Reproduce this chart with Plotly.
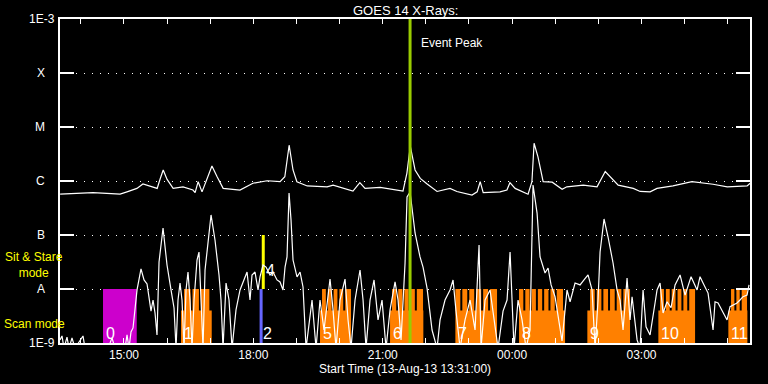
import math
import plotly.graph_objects as go

# ---------------- data (clock hours from 13-Aug-13 00:00; >24 = next day) ----------------
START, END = 13.5167, 29.5167
BELOW = 8e-10  # flux below plotted floor

long_channel = [
    (13.52, 5.7e-7), (14.28, 6.1e-7), (14.60, 5.9e-7), (14.91, 5.7e-7), (15.07, 6.3e-7),
    (15.30, 7.3e-7), (15.44, 8.8e-7), (15.77, 7.3e-7), (15.84, 1.1e-6), (15.91, 1.6e-6),
    (16.00, 1.07e-6), (16.14, 7.3e-7), (16.37, 7.8e-7), (16.60, 6.8e-7), (16.65, 6.1e-7),
    (16.72, 9.7e-7), (16.81, 6.3e-7), (16.93, 1.1e-6), (17.04, 1.9e-6), (17.16, 1.2e-6),
    (17.30, 7.3e-7), (17.69, 6.8e-7), (17.99, 9.1e-7), (18.32, 1.01e-6), (18.62, 9.7e-7),
    (18.73, 1.2e-6), (18.83, 4.6e-6), (18.92, 1.6e-6), (19.01, 9.7e-7), (19.25, 8.1e-7),
    (19.71, 7.8e-7), (19.85, 8.4e-7), (20.17, 7.1e-7), (20.31, 6.5e-7), (20.47, 9.3e-7),
    (20.59, 7.3e-7), (20.94, 7.6e-7), (21.24, 7.0e-7), (21.47, 6.5e-7), (21.56, 1.39e-6),
    (21.64, 4.4e-6), (21.75, 1.6e-6), (21.87, 1.12e-6), (22.03, 8.8e-7), (22.26, 6.4e-7),
    (22.56, 7.3e-7), (22.72, 6.4e-7), (23.07, 5.5e-7), (23.19, 6.3e-7), (23.26, 9.7e-7),
    (23.33, 6.1e-7), (23.72, 6.3e-7), (23.88, 6.8e-7), (23.95, 9.3e-7), (24.07, 7.3e-7),
    (24.37, 5.7e-7), (24.46, 9.7e-7), (24.51, 5.0e-6), (24.60, 2.8e-6), (24.72, 9.7e-7),
    (24.93, 9.5e-7), (25.16, 7.0e-7), (25.27, 7.8e-7), (25.65, 8.4e-7), (25.97, 7.8e-7),
    (26.16, 1.5e-6), (26.32, 1.12e-6), (26.46, 8.4e-7), (26.81, 7.3e-7), (26.97, 6.4e-7),
    (27.20, 6.3e-7), (27.36, 7.3e-7), (27.73, 8.1e-7), (28.17, 9.7e-7), (28.66, 8.7e-7),
    (28.99, 7.8e-7), (29.45, 8.1e-7), (29.52, 9.1e-7),
]

short_channel = [
    (13.517, 1.14e-9), (13.563, 1.35e-9), (13.610, BELOW), (13.679, 1.29e-9), (13.726, BELOW),
    (13.795, 1.24e-9), (13.865, BELOW), (13.981, 1.09e-9), (14.050, 1.35e-9), (14.097, BELOW),
    (14.630, BELOW), (14.723, 1.24e-9), (14.792, BELOW), (15.024, BELOW), (15.071, 1.41e-9),
    (15.117, BELOW), (15.163, 1.6e-9), (15.210, 1.9e-9), (15.256, 3.75e-9), (15.303, 9.6e-9),
    (15.395, 2.35e-8), (15.465, 1.47e-8), (15.535, 1.24e-8), (15.627, 3.9e-9), (15.674, 6.25e-9),
    (15.720, 3.6e-9), (15.766, 1.41e-9), (15.813, 3.16e-8), (15.906, 1.35e-7), (15.998, 2.78e-8),
    (16.091, 9.6e-9), (16.161, 4.45e-9), (16.207, BELOW), (16.253, 6.25e-9), (16.300, 1.29e-8),
    (16.346, 6.25e-9), (16.393, BELOW), (16.439, 9.6e-9), (16.485, 2.06e-8), (16.532, 6.25e-9),
    (16.578, BELOW), (16.625, 6.25e-9), (16.694, 3.44e-8), (16.740, 4.84e-8), (16.787, 6.25e-9),
    (16.833, BELOW), (16.880, 2.25e-8), (16.926, 4.64e-8), (17.019, 2.35e-7), (17.111, 8.07e-8),
    (17.204, 1.82e-8), (17.250, 6.25e-9), (17.297, BELOW), (17.367, 1.29e-8), (17.436, 6.25e-9),
    (17.506, BELOW), (17.598, 4.1e-9), (17.691, 9.6e-9), (17.784, 1.47e-8), (17.854, 2.06e-8),
    (17.923, 6.25e-9), (17.969, 1.82e-8), (18.039, 2.06e-8), (18.109, 9.6e-9), (18.155, 1.67e-8),
    (18.225, 2.78e-8), (18.294, 2.55e-8), (18.387, 1.82e-8), (18.456, 2.06e-8), (18.549, 1.47e-8),
    (18.619, 1.35e-8), (18.688, 9.6e-9), (18.735, 2.55e-8), (18.781, 3.92e-8), (18.828, 6.0e-7),
    (18.874, 1.9e-7), (18.920, 3.44e-8), (19.013, 1.67e-8), (19.083, 2.06e-8), (19.152, 1.09e-8),
    (19.222, BELOW), (19.361, 6.25e-9), (19.454, BELOW), (19.546, 6.25e-9), (19.639, 1.74e-9),
    (19.732, 8.4e-9), (19.778, 1.53e-8), (19.848, 4.1e-9), (19.917, BELOW), (20.010, 6.25e-9),
    (20.126, 1.53e-8), (20.196, 2.67e-9), (20.265, BELOW), (20.358, 6.25e-9), (20.474, 2.25e-8),
    (20.544, 6.25e-9), (20.613, BELOW), (20.706, 6.25e-9), (20.799, 1.47e-8), (20.891, 2.67e-9),
    (20.984, 6.25e-9), (21.077, BELOW), (21.170, 4.1e-9), (21.286, 1.35e-8), (21.355, 6.25e-9),
    (21.425, 1.14e-9), (21.471, 6.25e-9), (21.518, 3.03e-8), (21.564, 5.06e-7), (21.634, 6.25e-7),
    (21.750, 1.09e-7), (21.865, 3.92e-8), (21.935, 2.55e-8), (22.028, 1.04e-8), (22.144, 1.74e-9),
    (22.260, BELOW), (22.329, 2.67e-9), (22.445, 6.25e-9), (22.561, 9.6e-9), (22.631, 1.47e-8),
    (22.700, 3.9e-9), (22.793, BELOW), (22.909, 2.67e-9), (23.025, 6.25e-9), (23.141, 1.74e-9),
    (23.234, 6.53e-8), (23.280, BELOW), (23.373, 6.25e-9), (23.489, 9.6e-9), (23.582, 2.67e-9),
    (23.674, BELOW), (23.790, 3.9e-9), (23.883, 6.25e-9), (23.953, 4.84e-8), (24.045, BELOW),
    (24.138, 6.25e-9), (24.231, 2.67e-9), (24.324, BELOW), (24.416, 1.74e-9), (24.486, 8.43e-7),
    (24.579, 2.55e-7), (24.648, 3.92e-8), (24.764, 1.98e-8), (24.834, 2.45e-8), (24.904, 1.19e-8),
    (24.996, 7.2e-9), (25.112, 1.74e-9), (25.158, 1.09e-9), (25.274, 9.6e-9), (25.344, 5.8e-9),
    (25.460, 1.29e-8), (25.576, 1.19e-8), (25.668, 1.47e-8), (25.761, 1.82e-8), (25.854, 9.6e-9),
    (25.924, BELOW), (25.993, 6.25e-9), (26.040, 4.84e-8), (26.132, 1.98e-7), (26.225, 9.18e-8),
    (26.341, 3.03e-8), (26.434, 9.6e-9), (26.503, 6.25e-9), (26.573, 1.74e-9), (26.666, 1.6e-8),
    (26.735, 2.67e-9), (26.782, 7.2e-9), (26.851, 2.0e-9), (26.898, 1.14e-9), (26.967, BELOW),
    (27.037, 9.6e-9), (27.106, 2.0e-9), (27.199, 1.41e-9), (27.315, 5.5e-9), (27.361, 9.6e-9),
    (27.431, 1.29e-8), (27.501, 3.6e-9), (27.593, 5.8e-9), (27.686, 4.5e-9), (27.779, 1.19e-8),
    (27.895, 1.82e-8), (28.011, 7.7e-9), (28.150, 1.69e-8), (28.289, 9.6e-9), (28.358, 1.69e-8),
    (28.428, 1.29e-8), (28.544, 8.4e-9), (28.660, 1.74e-9), (28.706, 5.8e-9), (28.776, 5.5e-9),
    (28.892, 3.6e-9), (28.984, 2.67e-9), (29.054, 4.7e-9), (29.216, 5.5e-9), (29.285, 6.25e-9),
    (29.355, 7.2e-9), (29.448, 7.7e-9), (29.494, 1.19e-8),
]

# scan-mode observations (orange)
scan_labels = ["1", "5", "6", "7", "8", "9", "10", "11"]
scan_start = [16.323, 19.546, 21.170, 22.685, 24.161, 25.745, 27.392, 29.015]
scan_end = [17.035, 20.265, 21.942, 23.651, 25.228, 26.735, 28.243, 29.456]
raster_start = [16.393, 19.593, 21.216, 22.685, 24.161, 25.808, 27.431, 29.077]
raster_end = [16.980, 20.265, 21.935, 23.651, 25.181, 26.735, 28.243, 29.448]
raster_count = [3, 5, 5, 6, 7, 6, 6, 3]

# sit & stare observation (magenta) and single-exposure markers
stare_label, stare_start, stare_end = "0", 14.514, 15.296
blue_label, blue_time = "2", 18.18
yellow_label, yellow_time = "4", 18.23
event_peak_time = 21.634

FLOOR, RASTER_BASE, MODE_TOP, STARE_TOP = 1e-9, 4e-9, 1e-8, 1e-7
level_vals = [1e-9, 1e-8, 1e-7, 1e-6, 1e-5, 1e-4, 1e-3]
level_text = ["1E-9", "A", "B", "C", "M", "X", "1E-3"]
hours = list(range(14, 30))

# ---------------- figure ----------------
L, R, T, B = 60, 18, 19, 41
W, H = 768, 384
PW = W - L - R


def px_to_paper_x(px):
    return (px - L) / PW


def rects(xs0, xs1, y0, y1):
    xx, yy = [], []
    for a, b in zip(xs0, xs1):
        xx += [a, b, b, a, a, None]
        yy += [y0, y0, y1, y1, y0, None]
    return xx, yy


ORANGE = "#ff8000"
MAGENTA = "#cc00cc"
fig = go.Figure()

# lower solid blocks
bx, by = rects(scan_start, scan_end, FLOOR, RASTER_BASE)
fig.add_trace(go.Scatter(x=bx, y=by, fill="toself", fillcolor=ORANGE, mode="lines",
                         line=dict(width=0, color=ORANGE), hoverinfo="skip"))
# raster stripes
gap = 2.0 / (PW / (END - START))
s0, s1 = [], []
for a, b, n in zip(raster_start, raster_end, raster_count):
    w = (b - a) / n
    for k in range(n):
        x0 = a + k * w
        x1 = x0 + w - gap if k < n - 1 else b
        s0.append(x0)
        s1.append(x1)
sx, sy = rects(s0, s1, RASTER_BASE * 0.98, MODE_TOP)
fig.add_trace(go.Scatter(x=sx, y=sy, fill="toself", fillcolor=ORANGE, mode="lines",
                         line=dict(width=0, color=ORANGE), hoverinfo="skip"))
# magenta block
mx, my = rects([stare_start], [stare_end], FLOOR, MODE_TOP)
fig.add_trace(go.Scatter(x=mx, y=my, fill="toself", fillcolor=MAGENTA, mode="lines",
                         line=dict(width=0, color=MAGENTA), hoverinfo="skip"))
# blue & yellow markers
fig.add_trace(go.Scatter(x=[blue_time, blue_time], y=[FLOOR, MODE_TOP], mode="lines",
                         line=dict(color="#6666ff", width=3), hoverinfo="skip"))
fig.add_trace(go.Scatter(x=[yellow_time, yellow_time], y=[MODE_TOP, STARE_TOP], mode="lines",
                         line=dict(color="#ffff00", width=3), hoverinfo="skip"))

# curves
fig.add_trace(go.Scatter(x=[p[0] for p in long_channel], y=[p[1] for p in long_channel],
                         mode="lines", line=dict(color="white", width=1.2), hoverinfo="skip"))
fig.add_trace(go.Scatter(x=[p[0] for p in short_channel], y=[p[1] for p in short_channel],
                         mode="lines", line=dict(color="white", width=1.2), hoverinfo="skip"))

# event peak line
fig.add_trace(go.Scatter(x=[event_peak_time, event_peak_time], y=[FLOOR, 1e-3], mode="lines",
                         line=dict(color="#99cc00", width=3), hoverinfo="skip"))

FONT = "Liberation Sans"
ann = []
# region numbers
num_y = -8.815
for lab, s in zip(scan_labels, scan_start):
    ann.append(dict(x=s, y=num_y, text=lab, xanchor="left", xshift=1))
ann.append(dict(x=stare_start, y=num_y, text=stare_label, xanchor="left", xshift=1))
ann.append(dict(x=blue_time, y=num_y, text=blue_label, xanchor="left", xshift=0))
ann.append(dict(x=yellow_time, y=-7.66, text=yellow_label, xanchor="left", xshift=1))
for a in ann:
    a.update(xref="x", yref="y", showarrow=False, yanchor="middle",
             font=dict(family=FONT, size=16, color="white"))

# y labels
for v, t in zip(level_vals, level_text):
    shift = -3 if t.startswith("1E") else -13
    ann.append(dict(xref="paper", yref="y", x=0, y=math.log10(v), text=t, showarrow=False,
                    xanchor="right", yanchor="middle", xshift=shift,
                    font=dict(family=FONT, size=12, color="white")))

# mode labels (yellow)
ann.append(dict(xref="paper", yref="paper", x=px_to_paper_x(34), y=(343 - 265) / 324,
                text="Sit & Stare<br>mode", showarrow=False, xanchor="center", yanchor="middle",
                align="center", font=dict(family=FONT, size=12, color="#ffff00")))
ann.append(dict(xref="paper", yref="paper", x=px_to_paper_x(2), y=(343 - 324) / 324,
                text="Scan mode", showarrow=False, xanchor="left", yanchor="middle",
                font=dict(family=FONT, size=12, color="#ffff00")))
# event peak
ann.append(dict(xref="x", yref="paper", x=event_peak_time, y=(343 - 42.5) / 324,
                text="Event Peak", showarrow=False, xanchor="left", yanchor="middle", xshift=9,
                font=dict(family=FONT, size=12, color="white")))
# title & x title
ann.append(dict(xref="paper", yref="paper", x=0.5, y=(343 - 10) / 324, text="GOES 14 X-Rays:",
                showarrow=False, xanchor="center", yanchor="middle",
                font=dict(family=FONT, size=13, color="white")))
ann.append(dict(xref="paper", yref="paper", x=0.5, y=(343 - 369) / 324,
                text="Start Time (13-Aug-13 13:31:00)", showarrow=False,
                xanchor="center", yanchor="middle",
                font=dict(family=FONT, size=12, color="white")))

fig.update_layout(
    width=W, height=H, margin=dict(l=L, r=R, t=T, b=B, pad=0),
    paper_bgcolor="black", plot_bgcolor="black", showlegend=False,
    font=dict(family=FONT, color="white", size=12),
    annotations=ann,
)
fig.update_xaxes(
    range=[START, END], tickmode="array", tickvals=hours,
    ticktext=[f"{h % 24:02d}:00" if h % 3 == 0 else "" for h in hours],
    ticks="inside", ticklen=5, tickwidth=1, tickcolor="white",
    showline=True, linecolor="white", linewidth=2, mirror="ticks",
    showgrid=False, zeroline=False, tickfont=dict(family=FONT, size=12, color="white"),
)
fig.update_yaxes(
    type="log", range=[-9, -3], tickmode="array", tickvals=level_vals,
    ticks="inside", ticklen=14, tickwidth=1.5, tickcolor="white", showticklabels=False,
    showline=True, linecolor="white", linewidth=2, mirror="ticks",
    showgrid=True, gridcolor="white", gridwidth=1, griddash="1px,7px", zeroline=False,
)

fig.write_html("out.html")
